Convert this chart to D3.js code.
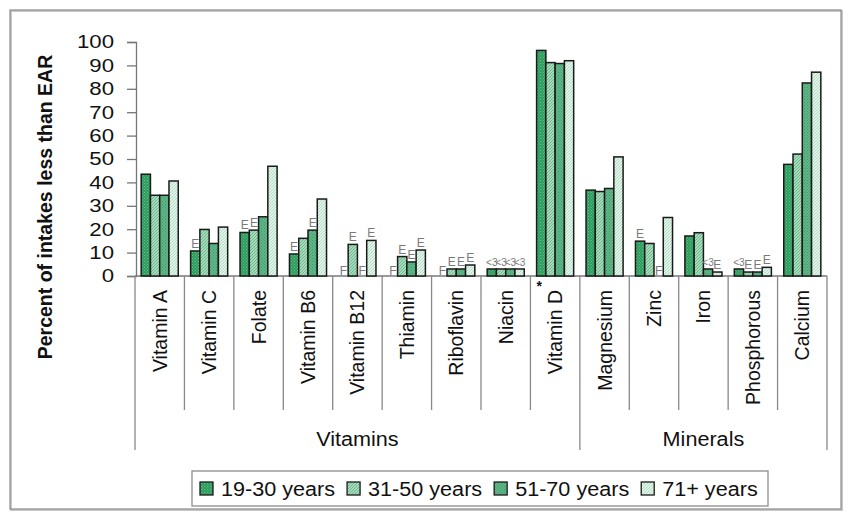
<!DOCTYPE html>
<html>
<head>
<meta charset="utf-8">
<script src="https://cdn.jsdelivr.net/npm/d3@7"></script>
<style>
  body { margin: 0; background: #fff; }
  text { font-family: "Liberation Sans", Arial, sans-serif; fill: #111; }
</style>
</head>
<body>
<div id="chart"></div>
<script>
  /*
    data
  */
  var categories = ['Vitamin A', 'Vitamin C', 'Folate', 'Vitamin B6', 'Vitamin B12', 'Thiamin',
                    'Riboflavin', 'Niacin', 'Vitamin D', 'Magnesium', 'Zinc', 'Iron',
                    'Phosphorous', 'Calcium'];
  var groups = ['Vitamins', 'Minerals'];
  var groupSizes = [9, 5];
  var series = ['19-30 years', '31-50 years', '51-70 years', '71+ years'];

  // null = suppressed (F)
  var age19_30 = [43.5, 10.7, 18.6, 9.4, null, null, null, 3, 96.4, 36.7, 14.9, 17.1, 3, 47.7];
  var age31_50 = [34.5, 19.9, 19.6, 16.1, 13.5, 8.3, 3, 3, 91.2, 36.1, 13.9, 18.5, 1.7, 52.1];
  var age51_70 = [34.5, 13.9, 25.3, 19.6, null, 6.0, 3, 3, 90.8, 37.4, null, 3, 1.7, 82.5];
  var age71up  = [40.6, 20.9, 46.9, 32.9, 15.2, 11.1, 4.7, 3, 92.0, 50.9, 25.0, 1.7, 3.7, 87.1];

  // quality flags printed above the bars
  var flag19_30 = ['', 'E', 'E', 'E', 'F', 'F', 'F', '<3', '', '', 'E', '', '<3', ''];
  var flag31_50 = ['', '', 'E', '', 'E', 'E', 'E', '<3', '', '', '', '', 'E', ''];
  var flag51_70 = ['', '', '', 'E', 'F', 'E', 'E', '<3', '', '', 'F', '<3', 'E', ''];
  var flag71up  = ['', '', '', '', 'E', 'E', 'E', '<3', '', '', '', 'E', 'E', ''];

  var yTicks = [0, 10, 20, 30, 40, 50, 60, 70, 80, 90, 100];

  var values = [age19_30, age31_50, age51_70, age71up],
      flags = [flag19_30, flag31_50, flag51_70, flag71up];

  var W = 850, H = 521;
  var svg = d3.select('#chart').append('svg')
              .attr('width', W).attr('height', H);

  // fill patterns, one per age group
  var defs = svg.append('defs');
  var pats = [
    {id: 'p0', bg: '#2e9a5c', fg: '#63c28f', kind: 'dots'},
    {id: 'p1', bg: '#a6dbbb', fg: '#5fae82', kind: 'hatch'},
    {id: 'p2', bg: '#5fb687', fg: '#3d9966', kind: 'dots'},
    {id: 'p3', bg: '#e2f4e9', fg: '#a3d5b7', kind: 'hatch'}
  ];
  pats.forEach(function(p) {
    var pt = defs.append('pattern').attr('id', p.id)
      .attr('patternUnits', 'userSpaceOnUse').attr('width', 3).attr('height', 3);
    pt.append('rect').attr('width', 3).attr('height', 3).attr('fill', p.bg);
    if (p.kind == 'dots') {
      pt.append('rect').attr('x', 0).attr('y', 0).attr('width', 1).attr('height', 1).attr('fill', p.fg);
      pt.append('rect').attr('x', 1.5).attr('y', 1.5).attr('width', 1).attr('height', 1).attr('fill', p.fg);
    } else {
      pt.append('path').attr('d', 'M0,3 L3,0 M-1,1 L1,-1 M2,4 L4,2')
        .attr('stroke', p.fg).attr('stroke-width', 0.8);
    }
  });

  // stretch text horizontally (the reference image is a bit wide)
  function stretch(sel, k) {
    sel.each(function() {
      var l = this.getComputedTextLength();
      d3.select(this).attr('textLength', l * k).attr('lengthAdjust', 'spacingAndGlyphs');
    });
  }

  // outer frame
  svg.append('rect').attr('x', 11).attr('y', 11).attr('width', 831).attr('height', 499)
     .attr('fill', 'none').attr('stroke', '#c8c8c8').attr('stroke-width', 2);
  svg.append('rect').attr('x', 10).attr('y', 10).attr('width', 831).attr('height', 499)
     .attr('fill', 'none').attr('stroke', '#8c8c8c').attr('stroke-width', 1.2);

  var x0 = 135, x1 = 827, yBase = 276, yTop = 42;

  var x = d3.scaleBand().domain(categories).range([x0, x1])
            .paddingInner(0.25).paddingOuter(0.125);
  var xs = d3.scaleBand().domain(d3.range(series.length)).range([0, x.bandwidth()]);
  var y = d3.scaleLinear().domain([0, 100]).range([yBase, yTop]);
  var step = x.step();

  // y axis
  var yAxis = svg.append('g').attr('transform', 'translate(' + (x0 + 1) + ',0)')
    .call(d3.axisLeft(y).tickValues(yTicks).tickSize(9).tickPadding(13));
  yAxis.select('.domain').attr('stroke', '#777').attr('stroke-width', 1.3);
  yAxis.selectAll('.tick line').attr('stroke', '#777').attr('stroke-width', 1.3);
  yAxis.selectAll('.tick text').style('font-size', '18.5px').attr('fill', '#111')
       .style('font-family', '"Liberation Sans", Arial, sans-serif');
  stretch(yAxis.selectAll('.tick text'), 1.2);

  // y title
  svg.append('text')
     .attr('transform', 'translate(52,' + 207 + ') rotate(-90)')
     .attr('text-anchor', 'middle')
     .style('font-size', '19.5px').style('font-weight', 'bold')
     .text('Percent of intakes less than EAR');

  // category separators
  var bounds = d3.range(categories.length + 1);
  var groupEdges = [0];
  groupSizes.forEach(function(s, i) { groupEdges.push(groupEdges[i] + s); });
  svg.append('line').attr('x1', x0).attr('x2', x1).attr('y1', yBase).attr('y2', yBase)
     .attr('stroke', '#777').attr('stroke-width', 1.3);
  svg.selectAll('line.sep').data(bounds).enter().append('line')
     .attr('class', 'sep')
     .attr('x1', function(i) { return x0 + i * step; })
     .attr('x2', function(i) { return x0 + i * step; })
     .attr('y1', yBase)
     .attr('y2', function(i) { return groupEdges.indexOf(i) >= 0 ? 450 : 410; })
     .attr('stroke', '#888').attr('stroke-width', 1.3);

  // category labels
  svg.selectAll('text.cat').data(categories).enter().append('text')
     .attr('class', 'cat')
     .attr('transform', function(d) {
       return 'translate(' + (x(d) + x.bandwidth() / 2 + 7) + ',290) rotate(-90)';
     })
     .attr('text-anchor', 'end')
     .style('font-size', '19.5px')
     .text(function(d) { return d; });

  // asterisk for Vitamin D
  svg.append('text')
     .attr('x', x0 + categories.indexOf('Vitamin D') * step + 6).attr('y', 291)
     .style('font-size', '14px').style('font-weight', 'bold')
     .text('*');

  // group labels
  svg.selectAll('text.grp').data(groups).enter().append('text')
     .attr('class', 'grp')
     .attr('x', function(d, i) { return x0 + (groupEdges[i] + groupEdges[i + 1]) / 2 * step; })
     .attr('y', 446)
     .attr('text-anchor', 'middle')
     .style('font-size', '20px')
     .text(function(d) { return d; })
     .call(stretch, 1.08);

  // bars
  var rows = [];
  categories.forEach(function(c, ci) {
    series.forEach(function(s, si) {
      rows.push({cat: c, s: si, v: values[si][ci], f: flags[si][ci]});
    });
  });

  svg.selectAll('rect.bar').data(rows.filter(function(d) { return d.v != null; }))
     .enter().append('rect')
       .attr('class', 'bar')
       .attr('x', function(d) { return x(d.cat) + xs(d.s); })
       .attr('y', function(d) { return y(d.v); })
       .attr('width', xs.bandwidth())
       .attr('height', function(d) { return y(0) - y(d.v); })
       .attr('fill', function(d) { return 'url(#p' + d.s + ')'; })
       .attr('stroke', '#1a1a1a').attr('stroke-width', 1.5);

  // flag labels
  svg.selectAll('text.flag').data(rows.filter(function(d) { return d.f; }))
     .enter().append('text')
       .attr('class', 'flag')
       .attr('x', function(d) { return x(d.cat) + xs(d.s) + xs.bandwidth() / 2; })
       .attr('y', function(d) { return d.f == 'F' ? y(0) - 1 : y(d.v) - 3; })
       .attr('text-anchor', 'middle')
       .style('font-size', function(d) { return d.f == '<3' ? '10px' : '12px'; })
       .style('fill', '#7a7a7a')
       .text(function(d) { return d.f; });

  // legend
  var lg = svg.append('g');
  lg.append('rect').attr('x', 192).attr('y', 471).attr('width', 576).attr('height', 35)
    .attr('fill', '#fff').attr('stroke', '#8c8c8c').attr('stroke-width', 1.3);
  var cx = 200;
  series.forEach(function(s, i) {
    lg.append('rect').attr('x', cx).attr('y', 482).attr('width', 13).attr('height', 13)
      .attr('fill', 'url(#p' + i + ')').attr('stroke', '#1a1a1a').attr('stroke-width', 1.3);
    var t = lg.append('text').attr('x', cx + 21).attr('y', 496)
      .style('font-size', '20px').text(s);
    var w = t.node().getComputedTextLength() * 1.08;
    t.attr('textLength', w).attr('lengthAdjust', 'spacingAndGlyphs');
    cx += 21 + w + 12;
  });
</script>
</body>
</html>
